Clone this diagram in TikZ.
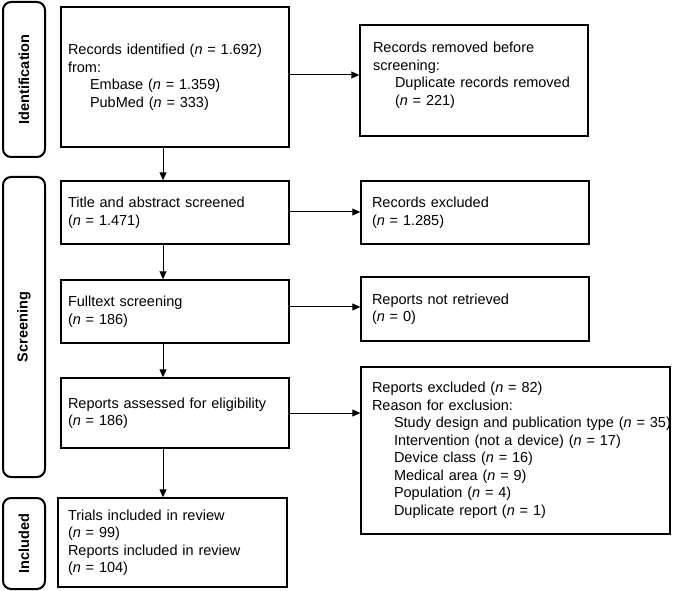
\documentclass[tikz,border=0pt]{standalone}
\usepackage{fontspec}
\setmainfont{Liberation Sans}
\usetikzlibrary{arrows.meta}
\newcommand{\ind}{\hspace*{22pt}}
\newcommand{\nn}{\textit{n}}
\newcommand{\rs}{\hspace*{9pt}}
\begin{document}
\begin{tikzpicture}[x=1pt,y=-1pt,
  box/.style={draw=black, line width=1.4pt, rectangle, align=left, inner ysep=0pt,
    font=\fontsize{14.5}{17.5}\selectfont, anchor=center},
  lbox/.style={box, inner xsep=7pt, text width=214pt},
  rbox/.style={box, inner xsep=11pt, text width=206pt},
  side/.style={draw=black, line width=2pt, rounded corners=8pt, rotate=90,
    minimum height=42pt, inner sep=0pt, font=\fontsize{14.5}{17.5}\selectfont\bfseries, anchor=center},
  arr/.style={draw=black, line width=1pt, -{Triangle[length=8pt,width=7pt]}}
]
\useasboundingbox (0,0) rectangle (673,591);

% side labels
\node[side, minimum width=155pt] (sid) at (24,79.5) {Identification};
\node[side, minimum width=300pt] (ssc) at (24,327) {Screening};
\node[side, minimum width=91pt] (sin) at (24,543.5) {Included};

% left column
\node[lbox, minimum height=140pt] (b1) at (175,77)
  {Records identified (\nn{} = 1.692)\\from:\\\ind Embase (\nn{} = 1.359)\\\ind PubMed (\nn{} = 333)};
\node[lbox, minimum height=63pt] (b2) at (175,212.5)
  {Title and abstract screened\\(\nn{} = 1.471)};
\node[lbox, minimum height=63pt] (b3) at (175,311.5)
  {Fulltext screening\\(\nn{} = 186)};
\node[lbox, minimum height=70pt] (b4) at (175,413)
  {Reports assessed for eligibility\\(\nn{} = 186)};
\node[box, inner xsep=10pt, text width=209pt, minimum height=89pt] (b5) at (172.5,542.5)
  {Trials included in review\\(\nn{} = 99)\\Reports included in review\\(\nn{} = 104)};

% right column
\node[rbox, minimum height=111pt, text width=202pt, inner xsep=13pt] (r1) at (474,80.5)
  {Records removed before\\screening:\\\ind Duplicate records removed\\\ind (\nn{} = 221)\\[-4pt]\mbox{}};
\node[rbox, minimum height=63pt] (r2) at (475,212.5)
  {Records excluded\\(\nn{} = 1.285)};
\node[rbox, minimum height=64pt] (r3) at (475,309)
  {Reports not retrieved\\(\nn{} = 0)};
\node[box, inner xsep=2pt, text width=305pt, minimum height=167pt] (r4) at (515.5,450.5)
  {\rs Reports excluded (\nn{} = 82)\\\rs Reason for exclusion:\\
   \rs\ind\mbox{Study design and publication type (\nn{} = 35)}\\
   \rs\ind Intervention (not a device) (\nn{} = 17)\\
   \rs\ind Device class (\nn{} = 16)\\
   \rs\ind Medical area (\nn{} = 9)\\
   \rs\ind Population (\nn{} = 4)\\
   \rs\ind Duplicate report (\nn{} = 1)};

% vertical arrows
\draw[arr] (b1.south -| 163,0) -- (b2.north -| 163,0);
\draw[arr] (b2.south -| 163,0) -- (b3.north -| 163,0);
\draw[arr] (b3.south -| 163,0) -- (b4.north -| 163,0);
\draw[arr] (b4.south -| 163,0) -- (b5.north -| 163,0);

% horizontal arrows
\draw[arr] (b1.east |- 0,75) -- (r1.west |- 0,75);
\draw[arr] (b2.east |- 0,212) -- (r2.west |- 0,212);
\draw[arr] (b3.east |- 0,307) -- (r3.west |- 0,307);
\draw[arr] (b4.east |- 0,413) -- (r4.west |- 0,413);
\end{tikzpicture}
\end{document}
